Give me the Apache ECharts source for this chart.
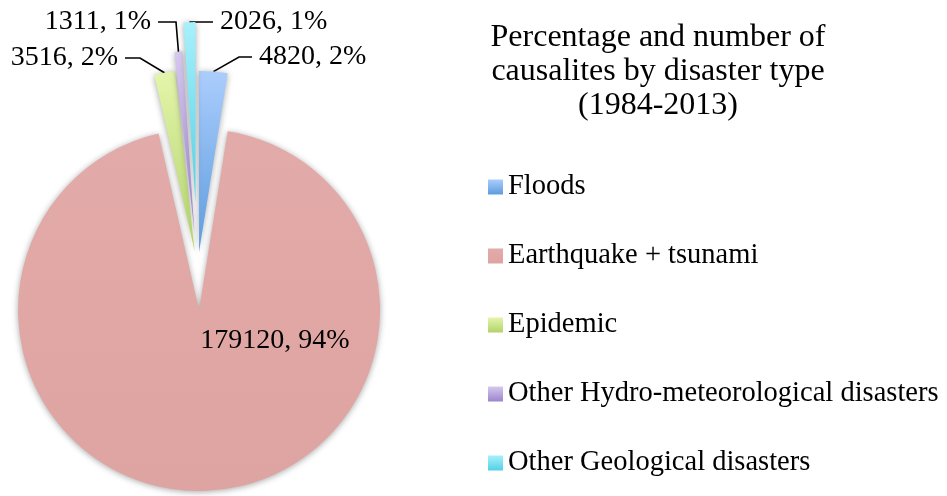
<!DOCTYPE html>
<html>
<head>
<meta charset="utf-8">
<script src="https://cdn.jsdelivr.net/npm/echarts@6/dist/echarts.min.js"></script>
<style>html,body{margin:0;padding:0;background:#fff}#c{width:947px;height:496px}</style>
</head>
<body>
<div id="c"></div>
<script>
const categories = ['Floods', 'Earthquake + tsunami', 'Epidemic', 'Other Hydro-meteorological disasters', 'Other Geological disasters'];
const casualties = [4820, 179120, 3516, 1311, 2026];
const titleLines = ['Percentage and number of', 'causalites by disaster type', '(1984-2013)'];

const gradTop = ['#abcdfc', '#e2aaa8', '#e4f5ab', '#d6c8ef', '#a8f0fc'];
const gradBottom = ['#5c9cdf', '#dea4a2', '#b2d36a', '#9c84cb', '#52d0e6'];
const explode = [17, 41, 18, 37, 66];
const labelPos = [
  {x: 252, y: 57, align: 'left', verticalAlign: 'middle'},
  {x: 275, y: 341, align: 'center', verticalAlign: 'middle'},
  {x: 125, y: 58, align: 'right', verticalAlign: 'middle'},
  {x: 158, y: 22, align: 'right', verticalAlign: 'middle'},
  {x: 213, y: 22, align: 'left', verticalAlign: 'middle'}
];
const labelFormat = [' {c}, {d}%', '{c}, {d}%', '{c}, {d}% ', '{c}, {d}% ', ' {c}, {d}%'];
const lineLen2 = [13, 0, 15, 18, 15];

const BASE_CENTER = [197.7, 269];
const RADIUS = 181;

function grad(i) {
  return new echarts.graphic.LinearGradient(0, 0, 0, 1, [
    {offset: 0, color: gradTop[i]},
    {offset: 1, color: gradBottom[i]}
  ]);
}

// explode each slice along its own bisector (angles derived from the values)
const total = casualties.reduce(function (a, b) { return a + b; }, 0);
let cum = 0;
const centers = casualties.map(function (v, i) {
  const mid = (cum + v / 2) / total * 2 * Math.PI;
  cum += v;
  return [BASE_CENTER[0] + Math.sin(mid) * explode[i], BASE_CENTER[1] - Math.cos(mid) * explode[i]];
});

const FONT = 'Liberation Serif';
const chart = echarts.init(document.getElementById('c'), null, {renderer: 'canvas'});

const series = categories.map(function (name, i) {
  return {
    type: 'pie',
    name: name,
    center: centers[i],
    radius: RADIUS,
    startAngle: 90,
    clockwise: true,
    percentPrecision: 0,
    minShowLabelAngle: 0,
    avoidLabelOverlap: false,
    animation: false,
    emphasis: {disabled: true},
    label: {show: false},
    labelLine: {show: false},
    labelLayout: labelPos[i],
    data: categories.map(function (n, j) {
      if (j !== i) {
        return {name: n, value: casualties[j], itemStyle: {color: 'rgba(0,0,0,0)', borderWidth: 0, shadowBlur: 0}};
      }
      return {
        name: n,
        value: casualties[j],
        itemStyle: {
          color: grad(j), borderWidth: 0,
          shadowBlur: 6, shadowColor: 'rgba(0,0,0,0.35)', shadowOffsetX: 0, shadowOffsetY: 1
        },
        label: {
          show: true,
          position: i === 1 ? 'inside' : 'outside',
          formatter: labelFormat[i],
          fontFamily: FONT,
          fontSize: 28,
          lineHeight: 28,
          color: '#000'
        },
        labelLine: {
          show: i !== 1,
          length: 10,
          length2: lineLen2[i],
          minTurnAngle: 0,
          lineStyle: {color: '#000', width: 1.6}
        }
      };
    })
  };
});

chart.setOption({
  backgroundColor: '#ffffff',
  animation: false,
  title: {
    text: titleLines.join('\n'),
    left: 658,
    top: 21,
    textAlign: 'center',
    padding: 0,
    textStyle: {fontFamily: FONT, fontSize: 32, lineHeight: 34, fontWeight: 'normal', color: '#000'}
  },
  legend: {
    orient: 'vertical',
    left: 488,
    top: 172,
    padding: 0,
    itemGap: 39,
    itemWidth: 15,
    itemHeight: 15,
    icon: 'rect',
    selectedMode: false,
    textStyle: {fontFamily: FONT, fontSize: 28.5, lineHeight: 30, color: '#000'},
    data: categories.map(function (n, j) {
      return {name: n, itemStyle: {color: grad(j), opacity: 1, borderWidth: 0, shadowBlur: 0}};
    })
  },
  series: series
});
</script>
</body>
</html>
